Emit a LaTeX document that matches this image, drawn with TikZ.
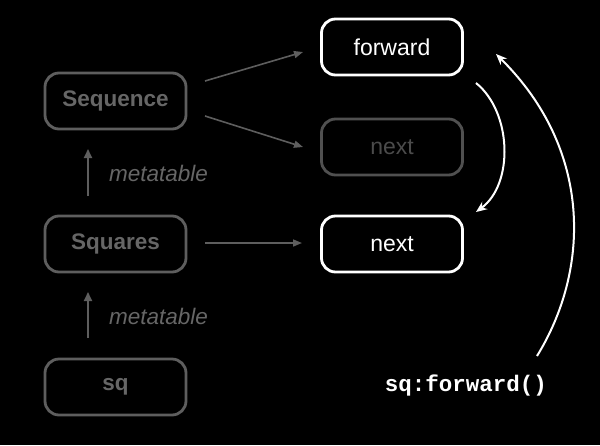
\documentclass[tikz,border=0pt]{standalone}
\usepackage{fontspec}
\setmainfont{Liberation Sans}
\newfontfamily\codefont{Liberation Mono}
\usetikzlibrary{arrows.meta}
\definecolor{dimgr}{HTML}{5E5E5E}
\definecolor{dimtx}{HTML}{666666}
\tikzset{
  box/.style={rounded corners=14pt, line width=2.8pt, minimum width=141pt, minimum height=56pt, inner sep=0pt, font=\fontsize{23}{25}\selectfont},
  dimbox/.style={box, draw=dimgr, text=dimtx},
  boldbox/.style={dimbox, font=\fontsize{22.5}{25}\selectfont\bfseries},
  litbox/.style={box, draw=white, text=white},
  dimarrow/.style={draw=dimgr, line width=1.6pt, -{Triangle[length=9pt,width=7pt]}},
  litarrow/.style={draw=white, line width=2pt, -{Stealth[length=11pt,width=9pt]}},
  metalabel/.style={text=dimtx, font=\fontsize{22.5}{24}\selectfont\itshape, anchor=west, inner sep=0pt}
}
\begin{document}
\begin{tikzpicture}[x=1pt,y=-1pt]
\fill[black] (0,0) rectangle (600,445);
\useasboundingbox (0,0) rectangle (600,445);
\node[boldbox] (seq) at (115.5,101) {Sequence};
\node[boldbox] (squ) at (115.5,244) {Squares};
\node[boldbox] (sq) at (115.5,387) {sq};
\node[litbox] (fwd) at (392,47) {forward};
\node[dimbox, draw=dimgr!85!black, text=dimgr!80!black] (nxg) at (392,147) {next};
\node[litbox] (nxt) at (392,244) {next};
\node[text=white, font=\codefont\bfseries\fontsize{22.5}{24}\selectfont, inner sep=0pt] (call) at (466,386) {sq:forward()};
% gray arrows
\coordinate (s1) at (205,81);
\coordinate (e1) at (303,52);
\coordinate (s2) at (205,116);
\coordinate (e2) at (303,147);
\coordinate (s3) at (205,243);
\coordinate (e3) at (302,243);
\draw[dimarrow] (s1) -- (e1);
\draw[dimarrow] (s2) -- (e2);
\draw[dimarrow] (s3) -- (e3);
% metatable arrows
\coordinate (m1a) at (88,196);
\coordinate (m1b) at (88,149);
\coordinate (m2a) at (88,338);
\coordinate (m2b) at (88,292);
\draw[dimarrow, line width=2pt, -{Triangle[length=9pt,width=8pt]}] (m1a) -- (m1b);
\draw[dimarrow, line width=2pt, -{Triangle[length=9pt,width=8pt]}] (m2a) -- (m2b);
\node[metalabel] (ml1) at (109,173) {metatable};
\node[metalabel] (ml2) at (109,316) {metatable};
% white curved arrows
\coordinate (c1s) at (476,83);
\coordinate (c1e) at (476,212);
\draw[litarrow] (c1s) .. controls (512,112) and (514,184) .. (c1e);
\coordinate (c2s) at (537,356);
\coordinate (c2e) at (496,54);
\draw[litarrow] (c2s) .. controls (590,270) and (593,150) .. (c2e);
\end{tikzpicture}
\end{document}
